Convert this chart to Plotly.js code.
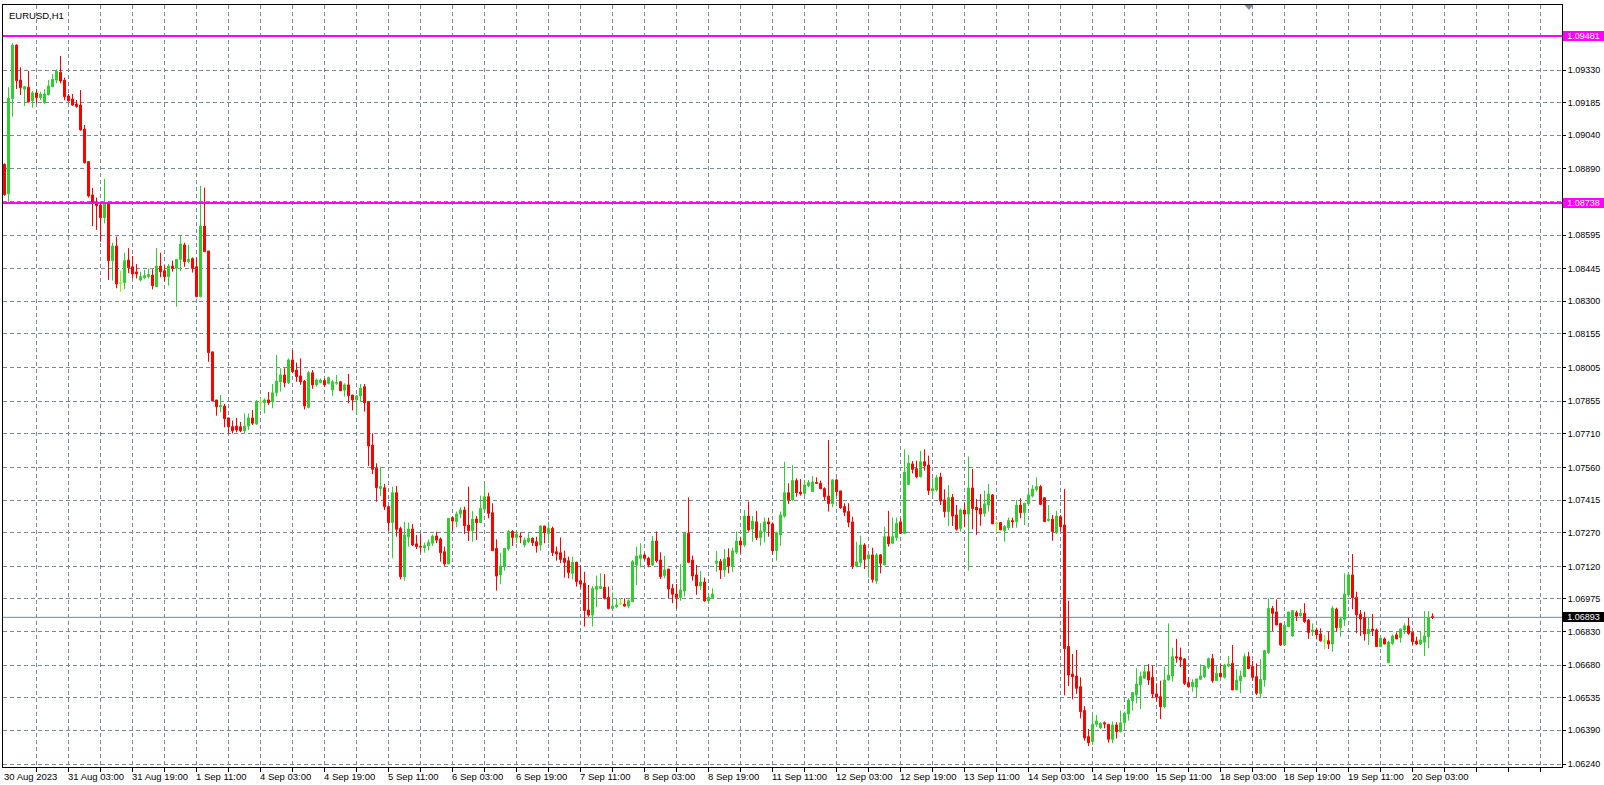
<!DOCTYPE html>
<html><head><meta charset="utf-8">
<script src="https://cdn.plot.ly/plotly-3.0.1.min.js"></script>
<style>html,body{margin:0;padding:0;background:#fff;}#chart{width:1604px;height:785px;}</style>
</head><body><div id="chart"></div>
<script>
const symbolTitle = 'EURUSD,H1';

const openPrices = [1.08910,1.08779,1.09202,1.09441,1.09285,1.09245,1.09253,1.09193,1.09228,1.09207,
 1.09185,1.09220,1.09256,1.09285,1.09320,1.09285,1.09214,1.09201,1.09179,1.09174,
 1.09067,1.08922,1.08774,1.08739,1.08729,1.08673,1.08739,1.08481,1.08546,1.08381,
 1.08383,1.08484,1.08454,1.08431,1.08395,1.08405,1.08410,1.08417,1.08365,1.08457,
 1.08436,1.08410,1.08457,1.08447,1.08487,1.08551,1.08477,1.08490,1.08454,1.08321,
 1.08635,1.08524,1.08075,1.07861,1.07831,1.07834,1.07781,1.07742,1.07745,1.07742,
 1.07724,1.07745,1.07781,1.07754,1.07849,1.07849,1.07861,1.07853,1.07893,1.07942,
 1.07972,1.07938,1.08039,1.07994,1.07968,1.07945,1.07828,1.07982,1.07928,1.07939,
 1.07947,1.07935,1.07905,1.07935,1.07942,1.07905,1.07928,1.07883,1.07861,1.07879,
 1.07920,1.07853,1.07660,1.07557,1.07467,1.07470,1.07386,1.07315,1.07448,1.07289,
 1.07074,1.07252,1.07286,1.07220,1.07208,1.07202,1.07212,1.07223,1.07255,1.07242,
 1.07185,1.07131,1.07337,1.07319,1.07353,1.07371,1.07304,1.07279,1.07331,1.07315,
 1.07375,1.07430,1.07359,1.07200,1.07082,1.07119,1.07197,1.07275,1.07249,1.07255,
 1.07215,1.07230,1.07245,1.07230,1.07215,1.07300,1.07267,1.07289,1.07185,1.07181,
 1.07156,1.07145,1.07089,1.07138,1.07056,1.07045,1.06926,1.06903,1.07018,1.07022,
 1.07027,1.06982,1.06932,1.06941,1.06955,1.06952,1.06943,1.06963,1.07126,1.07156,
 1.07171,1.07156,1.07126,1.07233,1.07148,1.07079,1.07108,1.07022,1.06997,1.06981,
 1.07010,1.07267,1.07148,1.07082,1.07033,1.07050,1.06966,1.06981,1.07134,1.07141,
 1.07104,1.07159,1.07122,1.07183,1.07233,1.07215,1.07344,1.07286,1.07318,1.07248,
 1.07275,1.07318,1.07309,1.07190,1.07260,1.07344,1.07448,1.07416,1.07502,1.07451,
 1.07445,1.07479,1.07453,1.07493,1.07490,1.07466,1.07433,1.07399,1.07505,1.07456,
 1.07386,1.07364,1.07318,1.07122,1.07137,1.07215,1.07154,1.07171,1.07055,1.07171,
 1.07126,1.07252,1.07223,1.07248,1.07318,1.07267,1.07485,1.07576,1.07555,1.07519,
 1.07586,1.07571,1.07456,1.07460,1.07518,1.07416,1.07364,1.07427,1.07349,1.07289,
 1.07371,1.07353,1.07469,1.07383,1.07378,1.07356,1.07393,1.07438,1.07312,1.07315,
 1.07279,1.07292,1.07324,1.07319,1.07393,1.07359,1.07398,1.07433,1.07463,1.07475,
 1.07426,1.07324,1.07330,1.07270,1.07341,1.07304,1.06763,1.06641,1.06632,1.06584,
 1.06478,1.06362,1.06340,1.06417,1.06402,1.06424,1.06417,1.06350,1.06414,1.06384,
 1.06424,1.06463,1.06522,1.06547,1.06592,1.06622,1.06651,1.06626,1.06552,1.06540,
 1.06495,1.06614,1.06632,1.06718,1.06715,1.06708,1.06602,1.06584,1.06582,1.06617,
 1.06629,1.06671,1.06709,1.06611,1.06644,1.06626,1.06676,1.06688,1.06570,1.06611,
 1.06629,1.06718,1.06674,1.06629,1.06555,1.06614,1.06736,1.06933,1.06917,1.06866,
 1.06770,1.06852,1.06810,1.06914,1.06901,1.06911,1.06881,1.06829,1.06837,1.06819,
 1.06788,1.06789,1.06774,1.06930,1.06847,1.06884,1.06993,1.07082,1.06982,1.06907,
 1.06892,1.06819,1.06841,1.06837,1.06763,1.06797,1.06691,1.06777,1.06815,1.06803,
 1.06837,1.06855,1.06826,1.06788,1.06774,1.06783,1.06807,1.06896];

const highPrices = [1.08914,1.09253,1.09449,1.09444,1.09342,1.09259,1.09326,1.09237,1.09244,1.09233,
 1.09244,1.09285,1.09312,1.09333,1.09392,1.09296,1.09223,1.09223,1.09196,1.09241,
 1.09085,1.08925,1.08805,1.08762,1.08739,1.08845,1.08744,1.08561,1.08588,1.08436,
 1.08517,1.08537,1.08502,1.08466,1.08432,1.08440,1.08446,1.08443,1.08537,1.08517,
 1.08460,1.08466,1.08481,1.08487,1.08595,1.08561,1.08551,1.08496,1.08495,1.08814,
 1.08806,1.08524,1.08075,1.07861,1.07883,1.07843,1.07781,1.07769,1.07781,1.07763,
 1.07801,1.07801,1.07816,1.07861,1.07868,1.07868,1.07896,1.07932,1.08061,1.08002,
 1.08002,1.08046,1.08083,1.08027,1.08046,1.07950,1.07990,1.07994,1.07957,1.07957,
 1.07957,1.07965,1.07950,1.07972,1.07942,1.07935,1.07977,1.07883,1.07883,1.07932,
 1.07932,1.07853,1.07712,1.07579,1.07564,1.07487,1.07386,1.07475,1.07478,1.07297,
 1.07318,1.07315,1.07309,1.07260,1.07264,1.07226,1.07240,1.07261,1.07275,1.07249,
 1.07208,1.07334,1.07341,1.07364,1.07383,1.07386,1.07475,1.07366,1.07344,1.07435,
 1.07482,1.07448,1.07401,1.07240,1.07181,1.07200,1.07282,1.07282,1.07282,1.07272,
 1.07249,1.07267,1.07249,1.07252,1.07304,1.07300,1.07319,1.07297,1.07208,1.07249,
 1.07190,1.07163,1.07163,1.07141,1.07123,1.07096,1.07037,1.07033,1.07079,1.07089,
 1.07086,1.07030,1.07004,1.06978,1.06978,1.06978,1.06973,1.07148,1.07208,1.07223,
 1.07178,1.07163,1.07255,1.07275,1.07183,1.07166,1.07108,1.07042,1.07042,1.07131,
 1.07267,1.07427,1.07168,1.07126,1.07099,1.07070,1.07000,1.07022,1.07189,1.07153,
 1.07197,1.07200,1.07203,1.07275,1.07252,1.07371,1.07408,1.07344,1.07367,1.07312,
 1.07337,1.07337,1.07316,1.07275,1.07364,1.07586,1.07490,1.07571,1.07512,1.07509,
 1.07505,1.07505,1.07522,1.07516,1.07502,1.07472,1.07683,1.07508,1.07511,1.07456,
 1.07401,1.07401,1.07341,1.07230,1.07257,1.07223,1.07175,1.07203,1.07178,1.07175,
 1.07297,1.07367,1.07337,1.07337,1.07334,1.07641,1.07616,1.07589,1.07591,1.07634,
 1.07641,1.07613,1.07512,1.07527,1.07537,1.07463,1.07482,1.07442,1.07393,1.07378,
 1.07401,1.07609,1.07554,1.07420,1.07442,1.07457,1.07487,1.07442,1.07319,1.07315,
 1.07304,1.07337,1.07337,1.07416,1.07423,1.07401,1.07460,1.07482,1.07516,1.07482,
 1.07426,1.07393,1.07349,1.07367,1.07349,1.07465,1.06967,1.06730,1.06748,1.06626,
 1.06498,1.06396,1.06466,1.06458,1.06426,1.06429,1.06417,1.06429,1.06426,1.06478,
 1.06473,1.06533,1.06558,1.06666,1.06651,1.06681,1.06685,1.06678,1.06599,1.06611,
 1.06674,1.06866,1.06758,1.06797,1.06758,1.06711,1.06626,1.06617,1.06619,1.06684,
 1.06681,1.06714,1.06730,1.06676,1.06685,1.06685,1.06721,1.06770,1.06662,1.06656,
 1.06733,1.06740,1.06700,1.06688,1.06706,1.06748,1.06978,1.06944,1.06973,1.06869,
 1.06858,1.06917,1.06926,1.06923,1.06930,1.06956,1.06886,1.06866,1.06847,1.06844,
 1.06815,1.06829,1.06944,1.06936,1.06896,1.07089,1.07089,1.07175,1.07007,1.06926,
 1.06918,1.06892,1.06908,1.06844,1.06800,1.06804,1.06789,1.06817,1.06826,1.06844,
 1.06866,1.06892,1.06826,1.06807,1.06832,1.06921,1.06921,1.06911];

const lowPrices = [1.08770,1.08739,1.09122,1.09245,1.09219,1.09170,1.09185,1.09162,1.09182,1.09196,
 1.09179,1.09217,1.09253,1.09271,1.09271,1.09196,1.09189,1.09171,1.09162,1.09060,
 1.08914,1.08762,1.08635,1.08618,1.08566,1.08647,1.08395,1.08392,1.08358,1.08343,
 1.08355,1.08425,1.08402,1.08402,1.08388,1.08398,1.08402,1.08353,1.08365,1.08407,
 1.08388,1.08370,1.08432,1.08276,1.08436,1.08454,1.08469,1.08428,1.08318,1.08318,
 1.08521,1.08031,1.07856,1.07791,1.07806,1.07739,1.07712,1.07712,1.07717,1.07717,
 1.07709,1.07727,1.07750,1.07750,1.07816,1.07801,1.07839,1.07824,1.07876,1.07898,
 1.07917,1.07932,1.07980,1.07942,1.07928,1.07819,1.07824,1.07910,1.07920,1.07935,
 1.07920,1.07930,1.07879,1.07928,1.07902,1.07876,1.07846,1.07815,1.07794,1.07853,
 1.07809,1.07567,1.07531,1.07408,1.07433,1.07371,1.07279,1.07156,1.07252,1.07062,
 1.07056,1.07208,1.07211,1.07197,1.07181,1.07181,1.07190,1.07211,1.07223,1.07141,
 1.07122,1.07131,1.07279,1.07294,1.07334,1.07264,1.07233,1.07230,1.07237,1.07315,
 1.07364,1.07334,1.07190,1.07012,1.07041,1.07101,1.07190,1.07211,1.07223,1.07223,
 1.07205,1.07223,1.07211,1.07181,1.07190,1.07223,1.07223,1.07166,1.07145,1.07134,
 1.07070,1.07067,1.07062,1.07030,1.07022,1.06852,1.06896,1.06852,1.06938,1.07018,
 1.06973,1.06929,1.06929,1.06933,1.06948,1.06941,1.06933,1.06960,1.07037,1.07116,
 1.07148,1.07116,1.07122,1.07137,1.07064,1.07067,1.06978,1.06956,1.06930,1.06967,
 1.06985,1.07134,1.07056,1.06993,1.07015,1.06963,1.06961,1.06978,1.07096,1.07064,
 1.07074,1.07089,1.07096,1.07175,1.07178,1.07208,1.07275,1.07230,1.07237,1.07212,
 1.07226,1.07252,1.07174,1.07145,1.07211,1.07337,1.07398,1.07413,1.07430,1.07435,
 1.07438,1.07472,1.07451,1.07487,1.07463,1.07413,1.07364,1.07383,1.07433,1.07376,
 1.07344,1.07294,1.07108,1.07116,1.07119,1.07108,1.07070,1.07048,1.07042,1.07089,
 1.07126,1.07208,1.07220,1.07234,1.07264,1.07267,1.07482,1.07534,1.07512,1.07516,
 1.07546,1.07438,1.07433,1.07453,1.07393,1.07338,1.07300,1.07300,1.07279,1.07275,
 1.07294,1.07101,1.07285,1.07260,1.07301,1.07341,1.07364,1.07309,1.07270,1.07282,
 1.07230,1.07282,1.07292,1.07292,1.07334,1.07304,1.07393,1.07427,1.07453,1.07393,
 1.07319,1.07319,1.07234,1.07264,1.07275,1.06546,1.06587,1.06528,1.06552,1.06443,
 1.06344,1.06320,1.06325,1.06406,1.06396,1.06399,1.06335,1.06332,1.06354,1.06380,
 1.06403,1.06433,1.06478,1.06510,1.06485,1.06622,1.06592,1.06533,1.06518,1.06440,
 1.06488,1.06611,1.06607,1.06691,1.06671,1.06592,1.06584,1.06562,1.06533,1.06614,
 1.06622,1.06662,1.06602,1.06611,1.06626,1.06620,1.06671,1.06570,1.06570,1.06555,
 1.06626,1.06662,1.06611,1.06547,1.06533,1.06584,1.06730,1.06832,1.06859,1.06766,
 1.06770,1.06852,1.06807,1.06877,1.06896,1.06869,1.06797,1.06810,1.06795,1.06785,
 1.06752,1.06752,1.06740,1.06829,1.06807,1.06855,1.06993,1.06929,1.06822,1.06810,
 1.06789,1.06770,1.06810,1.06763,1.06760,1.06774,1.06691,1.06770,1.06797,1.06780,
 1.06819,1.06815,1.06770,1.06770,1.06770,1.06721,1.06755,1.06886];

const closePrices = [1.08775,1.09204,1.09441,1.09283,1.09251,1.09256,1.09189,1.09228,1.09207,1.09223,
 1.09223,1.09259,1.09288,1.09324,1.09281,1.09211,1.09193,1.09174,1.09168,1.09063,
 1.08917,1.08769,1.08736,1.08726,1.08673,1.08739,1.08481,1.08546,1.08377,1.08381,
 1.08481,1.08450,1.08422,1.08422,1.08410,1.08414,1.08419,1.08370,1.08457,1.08432,
 1.08410,1.08457,1.08447,1.08487,1.08555,1.08477,1.08487,1.08446,1.08321,1.08635,
 1.08521,1.08072,1.07856,1.07831,1.07837,1.07778,1.07742,1.07724,1.07727,1.07724,
 1.07745,1.07781,1.07757,1.07853,1.07849,1.07861,1.07849,1.07893,1.07945,1.07972,
 1.07938,1.08039,1.07987,1.07965,1.07942,1.07834,1.07982,1.07928,1.07950,1.07950,
 1.07928,1.07960,1.07942,1.07939,1.07902,1.07928,1.07880,1.07861,1.07879,1.07913,
 1.07849,1.07656,1.07552,1.07470,1.07475,1.07386,1.07315,1.07448,1.07285,1.07074,
 1.07260,1.07286,1.07215,1.07208,1.07206,1.07212,1.07226,1.07255,1.07237,1.07181,
 1.07131,1.07334,1.07322,1.07353,1.07371,1.07301,1.07279,1.07331,1.07315,1.07378,
 1.07430,1.07356,1.07190,1.07077,1.07122,1.07200,1.07275,1.07249,1.07264,1.07252,
 1.07237,1.07245,1.07226,1.07211,1.07300,1.07270,1.07289,1.07181,1.07175,1.07151,
 1.07138,1.07092,1.07138,1.07052,1.07041,1.06923,1.06903,1.07022,1.07030,1.07030,
 1.06978,1.06932,1.06943,1.06948,1.06955,1.06943,1.06967,1.07141,1.07166,1.07171,
 1.07156,1.07126,1.07233,1.07145,1.07074,1.07104,1.07019,1.06996,1.06981,1.07015,
 1.07267,1.07138,1.07077,1.07033,1.07050,1.06966,1.06982,1.06997,1.07144,1.07104,
 1.07153,1.07122,1.07189,1.07233,1.07215,1.07344,1.07282,1.07322,1.07248,1.07278,
 1.07318,1.07309,1.07190,1.07270,1.07349,1.07448,1.07416,1.07502,1.07448,1.07442,
 1.07482,1.07493,1.07496,1.07490,1.07466,1.07430,1.07399,1.07505,1.07453,1.07381,
 1.07361,1.07316,1.07122,1.07140,1.07215,1.07151,1.07171,1.07062,1.07171,1.07134,
 1.07252,1.07220,1.07252,1.07312,1.07267,1.07540,1.07579,1.07552,1.07519,1.07586,
 1.07568,1.07457,1.07466,1.07515,1.07411,1.07364,1.07426,1.07344,1.07285,1.07371,
 1.07353,1.07469,1.07378,1.07371,1.07353,1.07398,1.07442,1.07309,1.07312,1.07282,
 1.07297,1.07324,1.07319,1.07393,1.07359,1.07401,1.07438,1.07465,1.07475,1.07396,
 1.07319,1.07330,1.07275,1.07344,1.07297,1.06754,1.06636,1.06629,1.06577,1.06473,
 1.06356,1.06335,1.06417,1.06432,1.06421,1.06418,1.06350,1.06414,1.06384,1.06424,
 1.06466,1.06525,1.06558,1.06596,1.06629,1.06651,1.06614,1.06552,1.06537,1.06495,
 1.06614,1.06636,1.06718,1.06712,1.06703,1.06599,1.06584,1.06604,1.06619,1.06632,
 1.06674,1.06709,1.06611,1.06644,1.06629,1.06681,1.06685,1.06570,1.06614,1.06632,
 1.06718,1.06665,1.06626,1.06555,1.06617,1.06745,1.06933,1.06911,1.06859,1.06770,
 1.06858,1.06917,1.06923,1.06899,1.06911,1.06874,1.06826,1.06837,1.06815,1.06789,
 1.06788,1.06774,1.06933,1.06847,1.06886,1.06997,1.07082,1.06981,1.06904,1.06886,
 1.06819,1.06840,1.06834,1.06763,1.06800,1.06774,1.06783,1.06810,1.06797,1.06841,
 1.06855,1.06822,1.06785,1.06774,1.06792,1.06810,1.06893,1.06893];

const timeLabels = ['30 Aug 2023','31 Aug 03:00','31 Aug 19:00','1 Sep 11:00','4 Sep 03:00','4 Sep 19:00',
 '5 Sep 11:00','6 Sep 03:00','6 Sep 19:00','7 Sep 11:00','8 Sep 03:00','8 Sep 19:00','11 Sep 11:00',
 '12 Sep 03:00','12 Sep 19:00','13 Sep 11:00','14 Sep 03:00','14 Sep 19:00','15 Sep 11:00',
 '18 Sep 03:00','18 Sep 19:00','19 Sep 11:00','20 Sep 03:00'];
const barsPerTimeLabel = 16;
const barsPerGridLine = 8;

const priceTickLabels = ['1.09330','1.09185','1.09040','1.08890','1.08745','1.08595','1.08445','1.08300',
 '1.08155','1.08005','1.07855','1.07710','1.07560','1.07415','1.07270','1.07120','1.06975','1.06830',
 '1.06680','1.06535','1.06390','1.06240'];

const levelLines = [1.09481, 1.08738];
const bidPrice = 1.06893;

const BULL = '#32CD32', BEAR = '#FF0000', DOJI = '#7CFC00', GRID = '#778899';
const FONT = 'Liberation Sans, Arial, sans-serif';

const idx = openPrices.map((_, i) => i);
const normalIdx = idx.filter(i => openPrices[i] !== closePrices[i]);
const dojiIdx = idx.filter(i => openPrices[i] === closePrices[i]);
const pick = (arr, ids) => ids.map(i => arr[i]);

function candleTrace(ids, up, down) {
  return {
    type: 'candlestick', x: ids,
    open: pick(openPrices, ids), high: pick(highPrices, ids),
    low: pick(lowPrices, ids), close: pick(closePrices, ids),
    increasing: {line: {color: up, width: 1}, fillcolor: up},
    decreasing: {line: {color: down, width: 1}, fillcolor: down},
    whiskerwidth: 0, hoverinfo: 'skip', showlegend: false
  };
}
const traces = [candleTrace(normalIdx, BULL, BEAR), candleTrace(dojiIdx, DOJI, DOJI)];

const nBars = openPrices.length;
const xMin = -0.375, xMax = 389.375;
const gridTicks = [];
for (let v = barsPerGridLine; v < xMax; v += barsPerGridLine) gridTicks.push(v);

const annotations = [];
timeLabels.forEach((t, k) => annotations.push({
  xref: 'x', yref: 'paper', x: k * barsPerTimeLabel, y: 0, text: t, showarrow: false,
  xanchor: 'left', yanchor: 'top', yshift: -2, xshift: -3,
  font: {family: FONT, size: 9.5, color: '#000'}
}));
annotations.push({
  xref: 'paper', yref: 'paper', x: 0, y: 1, xshift: 4, yshift: -3, text: symbolTitle,
  showarrow: false, xanchor: 'left', yanchor: 'top', font: {family: FONT, size: 9.5, color: '#000'}
});
function priceBox(v, bg) {
  return {xref: 'paper', yref: 'y', x: 1, y: v, xshift: 1, text: v.toFixed(5), showarrow: false,
    xanchor: 'left', yanchor: 'middle', bgcolor: bg, borderpad: 0, borderwidth: 0,
    width: 41, height: 10, align: 'center', valign: 'middle',
    font: {family: FONT, size: 9, color: '#fff'}};
}
levelLines.forEach(v => annotations.push(priceBox(v, '#FF00FF')));
annotations.push(priceBox(bidPrice, '#000000'));

const shapes = [];
shapes.push({type: 'line', xref: 'paper', yref: 'y', x0: 0, x1: 1, y0: bidPrice, y1: bidPrice,
  line: {color: GRID, width: 1}, layer: 'below'});
levelLines.forEach(v => shapes.push({type: 'line', xref: 'paper', yref: 'y', x0: 0, x1: 1, y0: v, y1: v,
  line: {color: '#FF00FF', width: 2}, layer: 'above'}));
shapes.push({type: 'path', xref: 'paper', yref: 'paper',
  path: 'M 0.7964 1 L 0.8020 1 L 0.7992 0.9935 Z', fillcolor: '#7f8c9b', line: {width: 0}});

const layout = {
  width: 1604, height: 785,
  margin: {l: 3, r: 42, t: 5, b: 18, pad: 0},
  paper_bgcolor: '#ffffff', plot_bgcolor: '#ffffff',
  font: {family: FONT, size: 9, color: '#000'},
  showlegend: false, hovermode: false,
  boxgap: 0.5, boxgroupgap: 0,
  xaxis: {
    type: 'linear', range: [xMin, xMax], fixedrange: true,
    rangeslider: {visible: false},
    tickmode: 'array', tickvals: gridTicks, showticklabels: false,
    ticks: 'outside', ticklen: 4, tickcolor: '#000', tickwidth: 1,
    showgrid: true, gridcolor: GRID, gridwidth: 1, griddash: '4px,3px',
    zeroline: false, showline: true, mirror: true, linecolor: '#000', linewidth: 1
  },
  yaxis: {
    type: 'linear', range: [1.062267, 1.096194], side: 'right', fixedrange: true,
    tickmode: 'array', tickvals: priceTickLabels.map(Number), ticktext: priceTickLabels,
    ticks: 'outside', ticklen: 3, tickcolor: '#000', tickwidth: 1,
    tickfont: {family: FONT, size: 9, color: '#000'},
    showgrid: true, gridcolor: GRID, gridwidth: 1, griddash: '4px,3px',
    zeroline: false, showline: true, mirror: true, linecolor: '#000', linewidth: 1
  },
  annotations: annotations,
  shapes: shapes
};

Plotly.newPlot('chart', traces, layout, {staticPlot: true, displayModeBar: false});
</script>
</body></html>
